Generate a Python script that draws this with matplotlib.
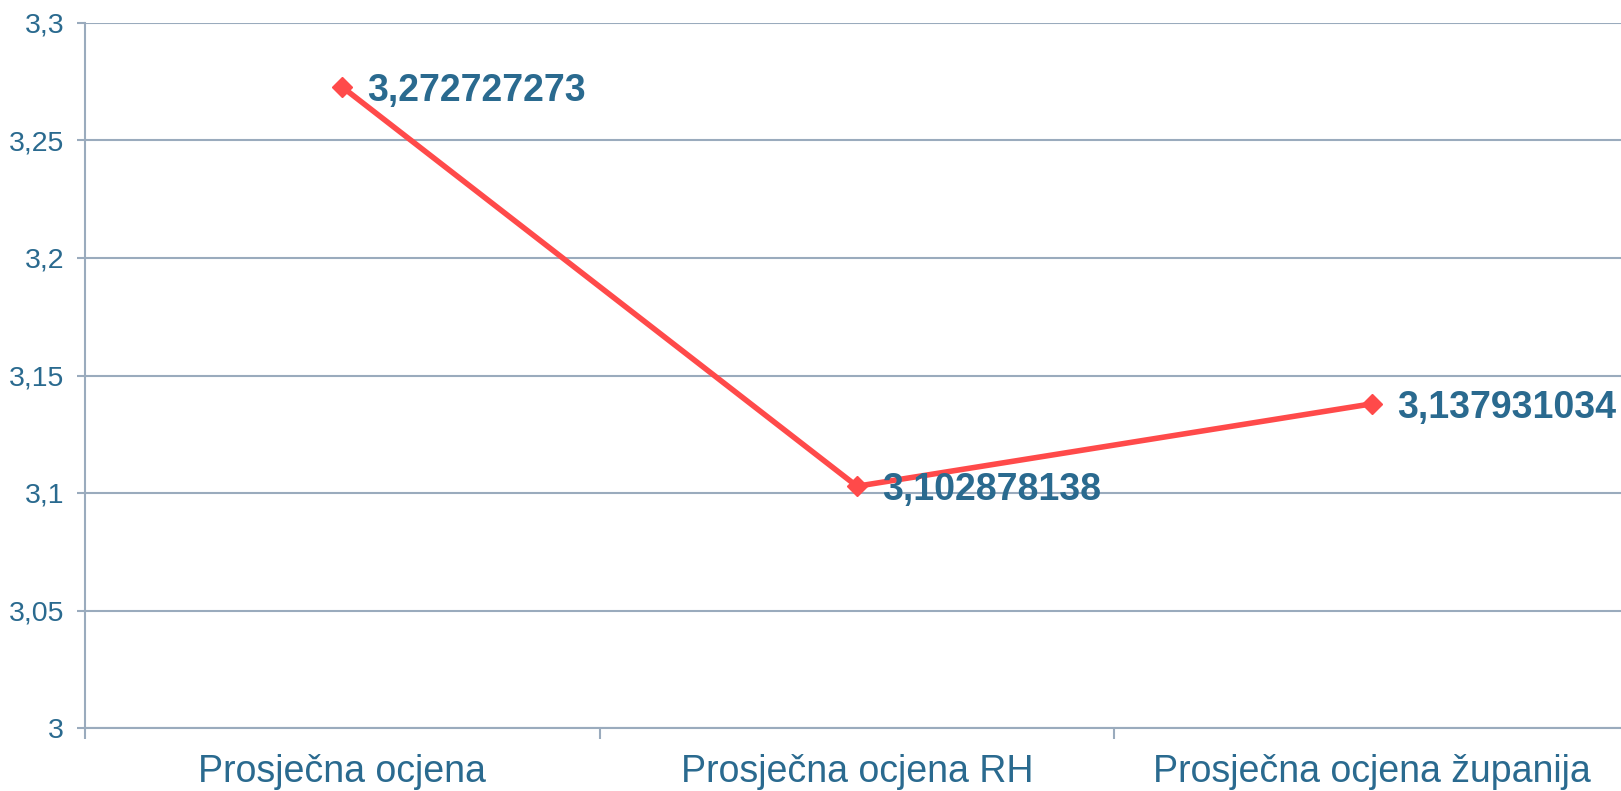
import matplotlib
matplotlib.use("Agg")
import matplotlib.pyplot as plt
from matplotlib.ticker import FixedLocator, FuncFormatter

categories = ["Prosječna ocjena", "Prosječna ocjena RH", "Prosječna ocjena županija"]
values = [3.272727273, 3.102878138, 3.137931034]
labels = ["3,272727273", "3,102878138", "3,137931034"]
y_ticks = [3.0, 3.05, 3.1, 3.15, 3.2, 3.25, 3.3]

text_col = "#2A6A8F"
grid_col = "#9AABBD"
line_col = "#FF4A4A"

plt.rcParams["font.family"] = ["Liberation Sans", "DejaVu Sans"]

fig = plt.figure(figsize=(16.21, 7.91), dpi=100)
ax = fig.add_axes([85 / 1621, 1 - 728 / 791, 1544 / 1621, 705 / 791])

x = list(range(len(categories)))
ax.plot(x, values, color=line_col, linewidth=4, marker="D", markersize=10,
        zorder=3, clip_on=False)

for xi, v, lab in zip(x, values, labels):
    ax.annotate(lab, (xi, v), xytext=(18, -3), textcoords="offset points",
                ha="left", va="center", fontsize=27, fontweight="bold",
                color=text_col, zorder=4)

ax.set_xlim(-0.5, 2.5)
ax.set_ylim(3.0, 3.3)

ax.yaxis.set_major_locator(FixedLocator(y_ticks))
ax.yaxis.set_major_formatter(FuncFormatter(lambda v, p: ("%g" % round(v, 2)).replace(".", ",")))
ax.grid(axis="y", color=grid_col, linewidth=1.5)
ax.set_axisbelow(True)

ax.set_xticks(x)
ax.set_xticklabels(categories)
ax.set_xticks([-0.5, 0.5, 1.5], minor=True)
ax.tick_params(axis="x", which="major", length=0, pad=19, labelsize=27, labelcolor=text_col)
ax.tick_params(axis="x", which="minor", length=8, width=1.5, color=grid_col, direction="out")
ax.tick_params(axis="y", length=6, width=1.5, color=grid_col, pad=9, labelsize=20.5,
               labelcolor=text_col)

for side in ["top", "right"]:
    ax.spines[side].set_visible(False)
for side in ["left", "bottom"]:
    ax.spines[side].set_color(grid_col)
    ax.spines[side].set_linewidth(1.5)

fig.savefig("out.png", dpi=100)
